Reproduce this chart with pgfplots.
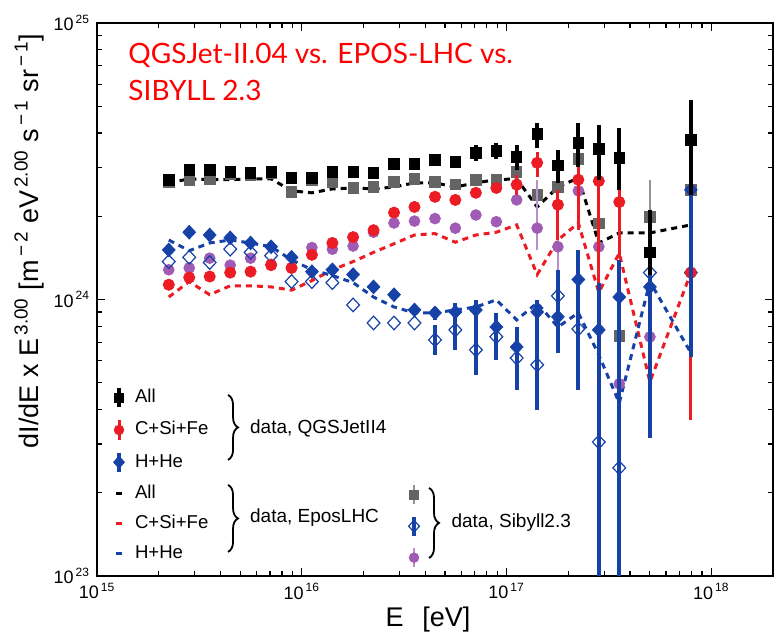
\documentclass[border=0pt]{standalone}
\usepackage{pgfplots}
\pgfplotsset{compat=1.18}
\usepackage{fontspec}
\setmainfont{Liberation Sans}
\newfontfamily\titlefont{Lato}
\usetikzlibrary{decorations.pathreplacing}
\definecolor{qred}{RGB}{236,28,36}
\definecolor{qblue}{RGB}{22,66,168}
\definecolor{spurple}{RGB}{160,92,180}
\definecolor{sgray}{RGB}{100,100,100}
\definecolor{tred}{RGB}{255,0,0}
\newcommand{\tl}[1]{10\textsuperscript{\,#1}}
\tikzset{mylgd/.style={
    draw=none, fill=none, inner sep=0pt, outer sep=0pt,
    font=\fontsize{9.3}{10}\selectfont, row sep=4.8pt,
    nodes={inner sep=1pt, text height=6.6pt, text depth=1.6pt}}}
\newcommand{\lgdbox}{\path[draw=none, fill=none] (0.15cm-7pt,0cm) -- (0.15cm+7pt,0cm);}
\begin{document}
\begin{tikzpicture}
\begin{axis}[
  scale only axis, width=338pt, height=276.5pt,
  xmode=log, ymode=log,
  xmin=1e15, xmax=2e18, ymin=1e23, ymax=1e25,
  clip mode=individual,
  xtick={1e15,1e16,1e17,1e18},
  xticklabels={\tl{15},\tl{16},\tl{17},\tl{18}},
  ytick={1e23,1e24,1e25},
  yticklabels={\tl{23},\tl{24},\tl{25}},
  minor xtick={2e15,3e15,4e15,5e15,6e15,7e15,8e15,9e15,2e16,3e16,4e16,5e16,6e16,7e16,8e16,9e16,2e17,3e17,4e17,5e17,6e17,7e17,8e17,9e17},
  minor ytick={2e23,3e23,4e23,5e23,6e23,7e23,8e23,9e23,2e24,3e24,4e24,5e24,6e24,7e24,8e24,9e24},
  tick align=inside,
  axis line style={line width=1pt},
  tick style={black, line width=0.6pt},
  major tick length=4pt, minor tick length=2.5pt,
  ticklabel style={font=\fontsize{9}{10}\selectfont},
  legend style={mylgd, at={(rel axis cs:0.0118,0.343)}, anchor=north west},
  legend cell align=left,
]
% ---------------- EPOS-LHC (dashed lines)
\addplot[forget plot, black, line width=1.5pt, dash pattern=on 3pt off 2.5pt] coordinates {
(2.24e15,2.64e24) (2.82e15,2.73e24) (3.55e15,2.71e24) (4.47e15,2.71e24) (5.62e15,2.73e24) (7.08e15,2.73e24) (8.91e15,2.47e24) (1.12e16,2.43e24) (1.41e16,2.51e24) (1.78e16,2.53e24) (2.24e16,2.51e24) (2.82e16,2.55e24) (3.55e16,2.64e24) (4.47e16,2.64e24) (5.62e16,2.55e24) (7.08e16,2.64e24) (8.91e16,2.71e24) (1.12e17,2.73e24) (1.41e17,2.16e24) (1.78e17,2.55e24) (2.24e17,2.75e24) (2.82e17,1.60e24) (3.55e17,1.74e24) (5.01e17,1.74e24) (7.94e17,1.86e24)};
\addplot[forget plot, qred, line width=1.5pt, dash pattern=on 3pt off 2.5pt] coordinates {
(2.24e15,1.02e24) (2.82e15,1.16e24) (3.55e15,1.04e24) (4.47e15,1.12e24) (5.62e15,1.12e24) (7.08e15,1.11e24) (8.91e15,1.08e24) (1.12e16,1.17e24) (1.41e16,1.28e24) (1.78e16,1.37e24) (2.24e16,1.48e24) (2.82e16,1.59e24) (3.55e16,1.71e24) (4.47e16,1.73e24) (5.62e16,1.61e24) (7.08e16,1.71e24) (8.91e16,1.75e24) (1.12e17,1.86e24) (1.41e17,1.23e24) (1.78e17,1.64e24) (2.24e17,1.89e24) (2.82e17,1.06e24) (3.55e17,1.47e24) (5.01e17,5.03e23) (7.94e17,1.25e24)};
\addplot[forget plot, qblue, line width=1.5pt, dash pattern=on 3pt off 2.5pt] coordinates {
(2.24e15,1.64e24) (2.82e15,1.50e24) (3.55e15,1.60e24) (4.47e15,1.64e24) (5.62e15,1.60e24) (7.08e15,1.55e24) (8.91e15,1.39e24) (1.12e16,1.28e24) (1.41e16,1.22e24) (1.78e16,1.15e24) (2.24e16,1.02e24) (2.82e16,9.39e23) (3.55e16,8.94e23) (4.47e16,8.94e23) (5.62e16,9.16e23) (7.08e16,9.39e23) (8.91e16,9.96e23) (1.12e17,8.43e23) (1.41e17,9.71e23) (1.78e17,7.95e23) (2.24e17,8.94e23) (2.82e17,6.30e23) (3.55e17,4.22e23) (5.01e17,1.16e24) (7.94e17,6.41e23)};
% ---------------- Sibyll 2.3
\addplot[forget plot, sgray!70, line width=0.7pt, unbounded coords=jump] coordinates {
(1.41e17,2.10e24) (1.41e17,2.70e24) (1.41e17,nan)
(5.01e17,1.48e24) (5.01e17,2.71e24)};
\addplot[forget plot, only marks, mark=square*, mark size=2.6pt, mark options={draw=sgray, fill=sgray}] coordinates {
(2.24e15,2.66e24) (2.82e15,2.71e24) (3.55e15,2.73e24) (4.47e15,2.84e24) (5.62e15,2.82e24) (7.08e15,2.87e24) (8.91e15,2.45e24) (1.12e16,2.71e24) (1.41e16,2.66e24) (1.78e16,2.53e24) (2.24e16,2.55e24) (2.82e16,2.66e24) (3.55e16,2.73e24) (4.47e16,2.66e24) (5.62e16,2.60e24) (7.08e16,2.71e24) (8.91e16,2.71e24) (1.12e17,2.89e24) (1.41e17,2.39e24) (1.78e17,2.55e24) (2.24e17,3.22e24) (2.82e17,1.88e24) (3.55e17,7.38e23) (5.01e17,1.99e24) (7.94e17,2.49e24)};
\addplot[forget plot, spurple!70, line width=0.7pt, unbounded coords=jump] coordinates {
(1.41e17,1.51e24) (1.41e17,2.71e24) (1.41e17,nan)
(1.78e17,1.25e24) (1.78e17,1.83e24) (1.78e17,nan)
(2.24e17,2.11e24) (2.24e17,2.82e24) (2.24e17,nan)
(2.82e17,1.18e24) (2.82e17,1.94e24) (2.82e17,nan)
(3.55e17,3.67e23) (3.55e17,6.57e23) (3.55e17,nan)
(5.01e17,5.12e23) (5.01e17,9.50e23)};
\addplot[forget plot, only marks, mark=*, mark size=2.7pt, mark options={draw=spurple, fill=spurple}] coordinates {
(2.24e15,1.28e24) (2.82e15,1.30e24) (3.55e15,1.41e24) (4.47e15,1.33e24) (5.62e15,1.41e24) (7.08e15,1.34e24) (8.91e15,1.30e24) (1.12e16,1.54e24) (1.41e16,1.52e24) (1.78e16,1.56e24) (2.24e16,1.75e24) (2.82e16,1.89e24) (3.55e16,1.92e24) (4.47e16,1.96e24) (5.62e16,1.81e24) (7.08e16,2.02e24) (8.91e16,1.91e24) (1.12e17,2.29e24) (1.41e17,1.81e24) (1.78e17,1.55e24) (2.24e17,2.47e24) (2.82e17,1.55e24) (3.55e17,4.95e23) (5.01e17,7.32e23) (7.94e17,1.25e24)};
\addplot[forget plot, only marks, mark=diamond, mark size=3.4pt, mark options={draw=qblue, fill=white, line width=0.6pt, xscale=1.25}] coordinates {
(2.24e15,1.37e24) (2.82e15,1.42e24) (3.55e15,1.36e24) (4.47e15,1.52e24) (5.62e15,1.48e24) (7.08e15,1.44e24) (8.91e15,1.16e24) (1.12e16,1.16e24) (1.41e16,1.15e24) (1.78e16,9.55e23) (2.24e16,8.22e23) (2.82e16,8.22e23) (3.55e16,8.22e23) (4.47e16,7.14e23) (5.62e16,7.76e23) (7.08e16,6.57e23) (8.91e16,7.33e23) (1.12e17,6.14e23) (1.41e17,5.80e23) (1.78e17,1.03e24) (2.24e17,7.82e23) (2.82e17,3.05e23) (3.55e17,2.46e23) (5.01e17,1.25e24) (7.94e17,1.25e24)};
\addplot[forget plot, qblue, line width=1.9pt, unbounded coords=jump] coordinates {
(4.47e16,6.30e23) (4.47e16,8.09e23) (4.47e16,nan)
(5.62e16,6.57e23) (5.62e16,8.79e23) (5.62e16,nan)
(7.08e16,5.33e23) (7.08e16,7.76e23) (7.08e16,nan)
(8.91e16,6.04e23) (8.91e16,8.43e23) (8.91e16,nan)
(1.12e17,4.71e23) (1.12e17,7.76e23) (1.12e17,nan)
(1.41e17,3.99e23) (1.41e17,8.43e23) (1.41e17,nan)
(1.78e17,7.76e23) (1.78e17,1.28e24) (1.78e17,nan)
(2.24e17,5.12e23) (2.24e17,1.08e24) (2.24e17,nan)
(2.82e17,9.00e22) (2.82e17,5.56e23) (2.82e17,nan)
(3.55e17,9.00e22) (3.55e17,5.12e23) (3.55e17,nan)
(5.01e17,9.96e23) (5.01e17,1.39e24)};
% ---------------- QGSJet-II.04
\addplot[forget plot, qred, line width=1.5pt, unbounded coords=jump] coordinates {
(1.12e17,2.39e24) (1.12e17,2.82e24) (1.12e17,nan)
(1.41e17,2.77e24) (1.41e17,3.42e24) (1.41e17,nan)
(1.78e17,1.64e24) (1.78e17,2.49e24) (1.78e17,nan)
(2.24e17,1.78e24) (2.24e17,3.47e24) (2.24e17,nan)
(2.82e17,9.96e23) (2.82e17,3.47e24) (2.82e17,nan)
(3.55e17,1.42e24) (3.55e17,3.20e24) (3.55e17,nan)
(7.94e17,3.67e23) (7.94e17,1.78e24)};
\addplot[forget plot, only marks, mark=*, mark size=2.8pt, mark options={draw=qred, fill=qred}] coordinates {
(2.24e15,1.13e24) (2.82e15,1.20e24) (3.55e15,1.21e24) (4.47e15,1.25e24) (5.62e15,1.26e24) (7.08e15,1.33e24) (8.91e15,1.30e24) (1.12e16,1.45e24) (1.41e16,1.60e24) (1.78e16,1.68e24) (2.24e16,1.78e24) (2.82e16,2.06e24) (3.55e16,2.16e24) (4.47e16,2.35e24) (5.62e16,2.29e24) (7.08e16,2.43e24) (8.91e16,2.53e24) (1.12e17,2.60e24) (1.41e17,3.12e24) (1.78e17,2.20e24) (2.24e17,2.71e24) (2.82e17,2.68e24) (3.55e17,2.25e24) (7.94e17,1.25e24)};
\addplot[forget plot, qblue, line width=1.9pt, unbounded coords=jump] coordinates {
(4.47e16,8.43e23) (4.47e16,9.39e23) (4.47e16,nan)
(5.62e16,6.73e23) (5.62e16,9.71e23) (5.62e16,nan)
(7.08e16,7.44e23) (7.08e16,9.96e23) (7.08e16,nan)
(8.91e16,6.19e23) (8.91e16,8.94e23) (8.91e16,nan)
(1.12e17,4.83e23) (1.12e17,7.95e23) (1.12e17,nan)
(1.41e17,4.33e23) (1.41e17,9.96e23) (1.41e17,nan)
(1.78e17,6.41e23) (1.78e17,1.25e24) (1.78e17,nan)
(2.24e17,4.71e23) (2.24e17,1.51e24) (2.24e17,nan)
(2.82e17,9.00e22) (2.82e17,1.15e24) (2.82e17,nan)
(3.55e17,9.00e22) (3.55e17,1.39e24) (3.55e17,nan)
(5.01e17,3.16e23) (5.01e17,1.89e24) (5.01e17,nan)
(7.94e17,6.19e23) (7.94e17,3.78e24)};
\addplot[forget plot, only marks, mark=diamond*, mark size=3.4pt, mark options={draw=qblue, fill=qblue, xscale=1.25}] coordinates {
(2.24e15,1.51e24) (2.82e15,1.75e24) (3.55e15,1.71e24) (4.47e15,1.67e24) (5.62e15,1.60e24) (7.08e15,1.55e24) (8.91e15,1.42e24) (1.12e16,1.26e24) (1.41e16,1.28e24) (1.78e16,1.23e24) (2.24e16,1.11e24) (2.82e16,1.04e24) (3.55e16,9.16e23) (4.47e16,8.94e23) (5.62e16,9.01e23) (7.08e16,9.16e23) (8.91e16,7.95e23) (1.12e17,6.73e23) (1.41e17,9.01e23) (1.78e17,8.65e23) (2.24e17,1.18e24) (2.82e17,7.76e23) (3.55e17,1.02e24) (5.01e17,1.11e24) (7.94e17,2.49e24)};
\addplot[forget plot, black, line width=1.9pt, unbounded coords=jump] coordinates {
(7.08e16,3.17e24) (7.08e16,3.62e24) (7.08e16,nan)
(8.91e16,3.22e24) (8.91e16,3.68e24) (8.91e16,nan)
(1.12e17,2.94e24) (1.12e17,3.62e24) (1.12e17,nan)
(1.41e17,3.53e24) (1.41e17,4.35e24) (1.41e17,nan)
(1.78e17,2.64e24) (1.78e17,3.47e24) (1.78e17,nan)
(2.24e17,3.01e24) (2.24e17,4.35e24) (2.24e17,nan)
(2.82e17,2.71e24) (2.82e17,4.28e24) (2.82e17,nan)
(3.55e17,2.49e24) (3.55e17,4.17e24) (3.55e17,nan)
(5.01e17,1.23e24) (5.01e17,2.11e24) (5.01e17,nan)
(7.94e17,2.39e24) (7.94e17,5.27e24)};
\addplot[forget plot, only marks, mark=square*, mark size=2.6pt, mark options={draw=black, fill=black}] coordinates {
(2.24e15,2.71e24) (2.82e15,2.94e24) (3.55e15,2.94e24) (4.47e15,2.89e24) (5.62e15,2.87e24) (7.08e15,2.89e24) (8.91e15,2.75e24) (1.12e16,2.75e24) (1.41e16,2.89e24) (1.78e16,2.89e24) (2.24e16,2.87e24) (2.82e16,3.09e24) (3.55e16,3.09e24) (4.47e16,3.20e24) (5.62e16,3.14e24) (7.08e16,3.39e24) (8.91e16,3.44e24) (1.12e17,3.28e24) (1.41e17,3.97e24) (1.78e17,3.06e24) (2.24e17,3.68e24) (2.82e17,3.50e24) (3.55e17,3.25e24) (5.01e17,1.48e24) (7.94e17,3.78e24)};
% ---------------- legend (QGSJet + EPOS)
\addlegendimage{legend image code/.code={\lgdbox
  \draw[black, line width=1.8pt] (0.15cm,-0.17cm) -- (0.15cm,0.17cm);
  \draw[black, mark=square*, mark size=2.2pt] plot coordinates {(0.15cm,0cm)};}}
\addlegendentry{All}
\addlegendimage{legend image code/.code={\lgdbox
  \draw[qred, line width=1.5pt] (0.15cm,-0.17cm) -- (0.15cm,0.17cm);
  \draw[qred, mark=*, mark size=2.4pt] plot coordinates {(0.15cm,0cm)};}}
\addlegendentry{C+Si+Fe}
\addlegendimage{legend image code/.code={\lgdbox
  \draw[qblue, line width=1.8pt] (0.15cm,-0.17cm) -- (0.15cm,0.17cm);
  \draw[qblue, mark=diamond*, mark size=3pt, mark options={xscale=1.2}] plot coordinates {(0.15cm,0cm)};}}
\addlegendentry{H+He}
\addlegendimage{legend image code/.code={\lgdbox
  \draw[black, line width=1.6pt] (0.15cm-1.6pt,0cm) -- (0.15cm+1.6pt,0cm);}}
\addlegendentry{All}
\addlegendimage{legend image code/.code={\lgdbox
  \draw[qred, line width=1.6pt] (0.15cm-1.6pt,0cm) -- (0.15cm+1.6pt,0cm);}}
\addlegendentry{C+Si+Fe}
\addlegendimage{legend image code/.code={\lgdbox
  \draw[qblue, line width=1.6pt] (0.15cm-1.6pt,0cm) -- (0.15cm+1.6pt,0cm);}}
\addlegendentry{H+He}
% ---------------- braces, texts
\draw[decorate, decoration={brace, amplitude=5pt}, line width=0.9pt]
  (rel axis cs:0.1938,0.3273) -- (rel axis cs:0.1938,0.2098);
\node[anchor=west, font=\fontsize{9.5}{11}\selectfont] at (rel axis cs:0.2160,0.2676) {data, QGSJetII4};
\draw[decorate, decoration={brace, amplitude=5pt}, line width=0.9pt]
  (rel axis cs:0.1938,0.1646) -- (rel axis cs:0.1938,0.0434);
\node[anchor=west, font=\fontsize{9.5}{11}\selectfont] at (rel axis cs:0.2160,0.1049) {data, EposLHC};
\draw[decorate, decoration={brace, amplitude=5pt}, line width=0.9pt]
  (rel axis cs:0.4911,0.1591) -- (rel axis cs:0.4911,0.0325);
\node[anchor=west, font=\fontsize{9.5}{11}\selectfont] at (rel axis cs:0.5140,0.0958) {data, Sibyll2.3};
\node[anchor=base west, inner sep=0pt, text=tred, font=\titlefont\fontsize{14}{17}\selectfont] at (rel axis cs:0.0459,0.9259) {QGSJet-II.04 vs. EPOS-LHC vs.};
\node[anchor=base west, inner sep=0pt, text=tred, font=\titlefont\fontsize{14}{17}\selectfont] at (rel axis cs:0.0459,0.8590) {SIBYLL 2.3};
\node[rotate=90, font=\fontsize{13.5}{15}\selectfont] at (rel axis cs:-0.1006,0.606) {dI/dE x E\textsuperscript{\,3.00} [m\textsuperscript{\,−\,2} eV\textsuperscript{\,2.00} s\textsuperscript{\,−\,1} sr\textsuperscript{\,−\,1}]};
\node[font=\fontsize{13.5}{15}\selectfont] at (rel axis cs:0.4896,-0.0796) {E\hspace{0.7em}[eV]};
\coordinate (BBsw) at (rel axis cs:-0.14349,-0.11392);
\coordinate (BBne) at (rel axis cs:1.0074,1.04159);
\end{axis}
% ---------------- Sibyll legend (overlay axis)
\begin{axis}[
  scale only axis, width=338pt, height=276.5pt,
  xmode=log, ymode=log,
  xmin=1e15, xmax=2e18, ymin=1e23, ymax=1e25,
  hide axis,
  legend style={mylgd, at={(rel axis cs:0.4482,0.1655)}, anchor=north west},
]
\addlegendimage{legend image code/.code={\lgdbox
  \draw[sgray!70, line width=0.7pt] (0.15cm,-0.17cm) -- (0.15cm,0.17cm);
  \draw[sgray, mark=square*, mark size=2.2pt] plot coordinates {(0.15cm,0cm)};}}
\addlegendentry{}
\addlegendimage{legend image code/.code={\lgdbox
  \draw[qblue, mark=diamond, mark size=3pt, mark options={fill=white, line width=0.6pt, xscale=1.2}] plot coordinates {(0.15cm,0cm)};
  \draw[qblue, line width=1.8pt] (0.15cm,-0.17cm) -- (0.15cm,0.17cm);}}
\addlegendentry{}
\addlegendimage{legend image code/.code={\lgdbox
  \draw[spurple!70, line width=0.7pt] (0.15cm,-0.17cm) -- (0.15cm,0.17cm);
  \draw[spurple, mark=*, mark size=2.4pt] plot coordinates {(0.15cm,0cm)};}}
\addlegendentry{}
\end{axis}
\pgfresetboundingbox
\path[use as bounding box] (BBsw) rectangle (BBne);
\end{tikzpicture}
\end{document}
